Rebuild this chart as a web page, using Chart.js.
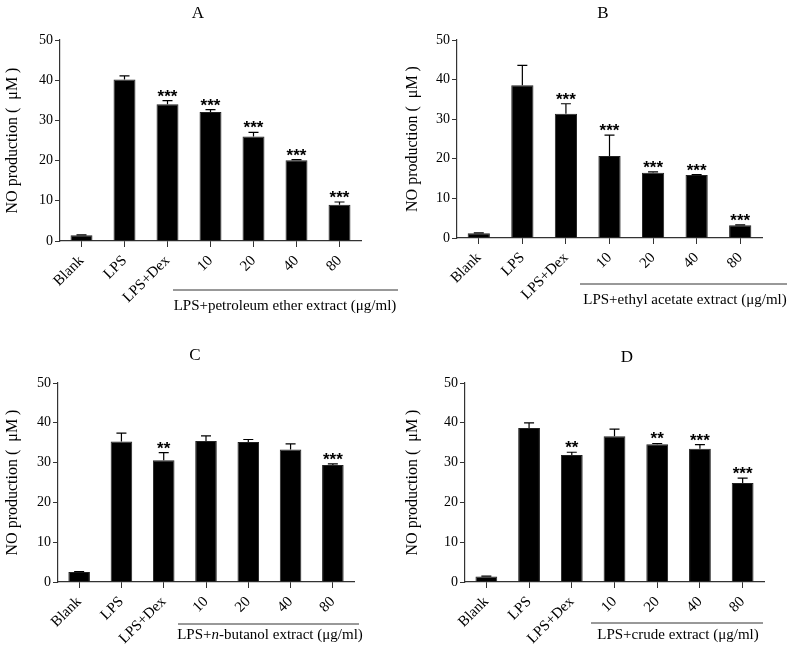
<!DOCTYPE html>
<html>
<head>
<meta charset="utf-8">
<script src="https://cdn.jsdelivr.net/npm/chart.js@4/dist/chart.umd.min.js"></script>
<style>
body { margin: 0; background: #fff; width: 787px; height: 646px; position: relative; overflow: hidden; }
.panel { position: absolute; }
</style>
</head>
<body>
<div class="panel" style="left:0;top:0"><canvas id="chartA" width="400" height="320"></canvas></div>
<div class="panel" style="left:400px;top:0"><canvas id="chartB" width="387" height="320"></canvas></div>
<div class="panel" style="left:0;top:320px"><canvas id="chartC" width="400" height="326"></canvas></div>
<div class="panel" style="left:400px;top:320px"><canvas id="chartD" width="387" height="326"></canvas></div>
<script>
// categories
const groups = ['Blank', 'LPS', 'LPS+Dex', '10', '20', '40', '80'];

// means (µM) and SD
const meansA = [1.4, 40.2, 34.0, 32.1, 26.0, 20.1, 9.0];
const sdA    = [0.1, 0.9, 0.9, 0.6, 1.0, 0.15, 0.7];
const starsA = ['', '', '***', '***', '***', '***', '***'];

const meansB = [1.2, 38.6, 31.4, 20.7, 16.5, 15.9, 3.2];
const sdB    = [0.1, 5.0, 2.5, 5.3, 0.2, 0.1, 0.1];
const starsB = ['', '', '***', '***', '***', '***', '***'];

const meansC = [2.5, 35.3, 30.6, 35.4, 35.2, 33.3, 29.4];
const sdC    = [0.1, 2.1, 1.9, 1.3, 0.6, 1.4, 0.3];
const starsC = ['', '', '**', '', '', '', '***'];

const meansD = [1.4, 38.7, 31.9, 36.6, 34.6, 33.5, 24.9];
const sdD    = [0.1, 1.3, 0.7, 1.8, 0.2, 1.0, 1.2];
const starsD = ['', '', '**', '', '**', '***', '***'];

const yTicks = [0, 10, 20, 30, 40, 50];

const serif = '"Liberation Serif", "Times New Roman", serif';

// error bars, stars, panel letter, bracket under the extract doses
const decor = {
    id: 'decor',
    afterDatasetsDraw(chart, args, opts) {
        const ctx = chart.ctx;
        const x = chart.scales.x, y = chart.scales.y;
        const data = chart.data.datasets[0].data;
        ctx.save();
        ctx.strokeStyle = '#000';
        ctx.lineWidth = 1.2;
        opts.sd.forEach((e, i) => {
            const cx = x.getPixelForValue(i);
            const y0 = y.getPixelForValue(data[i]);
            const y1 = y.getPixelForValue(data[i] + e);
            ctx.beginPath();
            ctx.moveTo(cx, y0);
            ctx.lineTo(cx, y1);
            ctx.moveTo(cx - 5, y1);
            ctx.lineTo(cx + 5, y1);
            ctx.stroke();
            if (opts.stars[i]) {
                ctx.fillStyle = '#000';
                ctx.font = 'bold 17px "Liberation Sans", Arial, sans-serif';
                ctx.textAlign = 'center';
                ctx.textBaseline = 'alphabetic';
                ctx.fillText(opts.stars[i], cx, y1 + 1);
            }
        });

        // panel letter
        ctx.fillStyle = '#000';
        ctx.font = '17px ' + serif;
        ctx.textAlign = 'center';
        ctx.textBaseline = 'middle';
        ctx.fillText(opts.letter, opts.letterX, opts.letterY);

        // bracket
        const b = opts.bracket;
        ctx.strokeStyle = '#333';
        ctx.lineWidth = 1;
        ctx.beginPath();
        ctx.moveTo(b.x1, b.y);
        ctx.lineTo(b.x2, b.y);
        ctx.stroke();
        ctx.textBaseline = 'middle';
        let total = 0;
        b.parts.forEach(p => {
            ctx.font = (p.italic ? 'italic ' : '') + '15px ' + serif;
            total += ctx.measureText(p.t).width;
        });
        let tx = b.cx - total / 2;
        ctx.textAlign = 'left';
        b.parts.forEach(p => {
            ctx.font = (p.italic ? 'italic ' : '') + '15px ' + serif;
            ctx.fillText(p.t, tx, b.ty);
            tx += ctx.measureText(p.t).width;
        });
        ctx.restore();
    }
};

function makePanel(id, means, sd, stars, geo) {
    new Chart(document.getElementById(id), {
        type: 'bar',
        data: {
            labels: groups,
            datasets: [{
                data: means,
                backgroundColor: '#000',
                borderColor: '#222',
                borderWidth: 1,
                barPercentage: 0.51,
                categoryPercentage: 1
            }]
        },
        plugins: [decor],
        options: {
            responsive: false,
            animation: false,
            layout: { padding: { top: geo.top, right: geo.w - geo.right, left: 0, bottom: 0 } },
            plugins: {
                legend: { display: false },
                tooltip: { enabled: false },
                decor: {
                    sd: sd,
                    stars: stars,
                    letter: geo.letter,
                    letterX: geo.letterX,
                    letterY: geo.letterY,
                    bracket: geo.bracket
                }
            },
            scales: {
                x: {
                    afterFit: s => { s.height = geo.h - geo.bottom; },
                    grid: { display: true, drawOnChartArea: false, offset: false, tickLength: 6, color: '#333', tickColor: '#333' },
                    border: { color: '#333', width: 1.2 },
                    ticks: {
                        minRotation: 45, maxRotation: 45, padding: 5,
                        color: '#000', font: { family: serif, size: 15 }
                    }
                },
                y: {
                    min: 0, max: 50,
                    afterFit: s => { s.width = geo.left; },
                    afterBuildTicks: s => { s.ticks = yTicks.map(v => ({ value: v })); },
                    grid: { display: true, drawOnChartArea: false, tickLength: 5, color: '#333', tickColor: '#333' },
                    border: { color: '#333', width: 1.2 },
                    ticks: { padding: 2, color: '#000', font: { family: serif, size: 14 } },
                    title: {
                        display: true,
                        text: 'NO production (  μM )',
                        color: '#000',
                        font: { family: serif, size: 16 },
                        padding: { top: 3, bottom: 0 }
                    }
                }
            }
        }
    });
}

makePanel('chartA', meansA, sdA, starsA, {
    w: 400, h: 320, left: 60, right: 361, top: 40, bottom: 241,
    letter: 'A', letterX: 198, letterY: 14,
    bracket: { x1: 173, x2: 398, y: 290, cx: 285, ty: 306,
        parts: [{ t: 'LPS+petroleum ether extract (μg/ml)' }] }
});
makePanel('chartB', meansB, sdB, starsB, {
    w: 387, h: 320, left: 57, right: 362, top: 40, bottom: 238,
    letter: 'B', letterX: 203, letterY: 14,
    bracket: { x1: 180, x2: 387, y: 284, cx: 285, ty: 300,
        parts: [{ t: 'LPS+ethyl acetate extract (μg/ml)' }] }
});
makePanel('chartC', meansC, sdC, starsC, {
    w: 400, h: 326, left: 58, right: 354, top: 63, bottom: 262,
    letter: 'C', letterX: 195, letterY: 36,
    bracket: { x1: 178, x2: 359, y: 304, cx: 270, ty: 315,
        parts: [{ t: 'LPS+' }, { t: 'n', italic: true }, { t: '-butanol extract (μg/ml)' }] }
});
makePanel('chartD', meansD, sdD, starsD, {
    w: 387, h: 326, left: 65, right: 364, top: 63, bottom: 262,
    letter: 'D', letterX: 227, letterY: 38,
    bracket: { x1: 191, x2: 363, y: 303, cx: 278, ty: 315,
        parts: [{ t: 'LPS+crude extract (μg/ml)' }] }
});
</script>
</body>
</html>
